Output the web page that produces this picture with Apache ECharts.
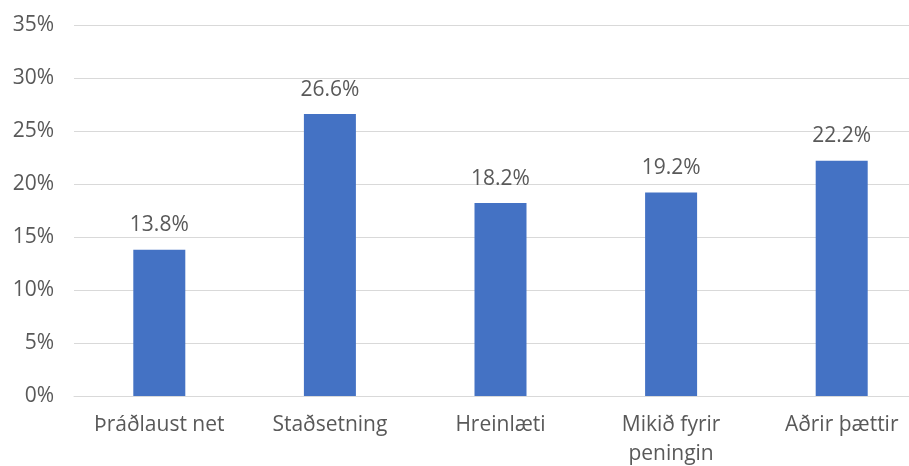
<!DOCTYPE html>
<html>
<head>
<meta charset="utf-8">
<script src="https://cdn.jsdelivr.net/npm/echarts@6/dist/echarts.min.js"></script>
<style>
  html, body { margin: 0; padding: 0; background: #ffffff; }
  #chart { width: 909px; height: 466px; }
</style>
</head>
<body>
<div id="chart"></div>
<script>
// Reasons for choosing the accommodation (share of answers, %)
const categories = ['Þráðlaust net', 'Staðsetning', 'Hreinlæti', 'Mikið fyrir\npeningin', 'Aðrir þættir'];
const shares = [13.8, 26.6, 18.2, 19.2, 22.2];
const yTicks = { min: 0, max: 35, step: 5 };

const textColor = '#595959';
const gridColor = '#d9d9d9';
const fontFamily = '"Open Sans", "Liberation Sans", sans-serif';

const chart = echarts.init(document.getElementById('chart'), null, { renderer: 'canvas' });

chart.setOption({
  animation: false,
  backgroundColor: '#ffffff',
  // plot area runs a little past the right edge of the canvas
  grid: { left: 74, right: -18, top: 25, bottom: 70, containLabel: false, outerBoundsMode: 'none' },
  xAxis: {
    type: 'category',
    data: categories,
    axisLine: { show: true, lineStyle: { color: gridColor, width: 1 } },
    axisTick: { show: false },
    axisLabel: {
      color: textColor,
      fontFamily: fontFamily,
      fontSize: 21,
      lineHeight: 29,
      margin: 15,
      interval: 0
    }
  },
  yAxis: {
    type: 'value',
    min: yTicks.min,
    max: yTicks.max,
    interval: yTicks.step,
    axisLine: { show: false },
    axisTick: { show: false },
    splitLine: { lineStyle: { color: gridColor, width: 1 } },
    axisLabel: {
      color: textColor,
      fontFamily: fontFamily,
      fontSize: 21,
      margin: 20,
      formatter: '{value}%'
    }
  },
  series: [{
    type: 'bar',
    data: shares,
    barWidth: 52,
    itemStyle: { color: '#4472c4' },
    label: {
      show: true,
      position: 'top',
      distance: 14,
      color: textColor,
      fontFamily: fontFamily,
      fontSize: 21,
      formatter: p => p.value.toFixed(1) + '%'
    }
  }]
});
</script>
</body>
</html>
